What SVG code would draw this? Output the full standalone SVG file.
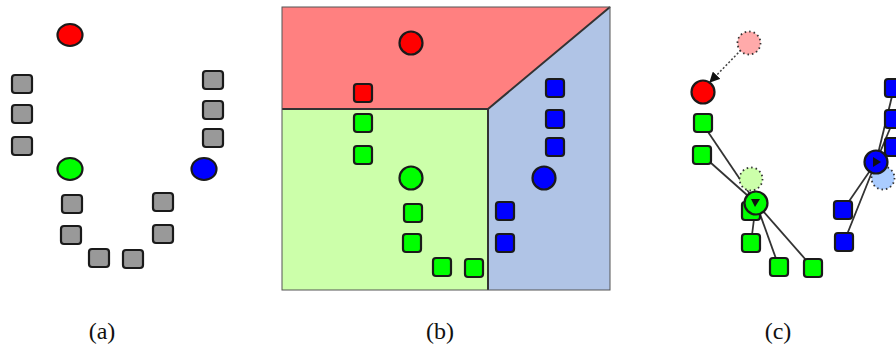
<svg xmlns="http://www.w3.org/2000/svg" width="896" height="347" viewBox="0 0 896 347">
<style>
.sq{stroke:#1a1a1a;stroke-width:2.2}
.ci{stroke:#1a1a1a;stroke-width:2.2}
.g{fill:#999999}
.r{fill:#ff0000}
.gr{fill:#00ff00}
.b{fill:#0000ff}
.ghost{stroke:#333;stroke-width:1.8;stroke-dasharray:1.5 3}
.link{stroke:#333;stroke-width:1.8;fill:none}
.lbl{font-family:"Liberation Serif",serif;font-size:24px;fill:#111;text-anchor:middle}
</style>
<defs>
<rect id="s" x="-9" y="-9" width="18" height="18" rx="3"/>
<rect id="sa" x="-10" y="-9" width="20" height="18" rx="3"/>
<marker id="ah" viewBox="0 0 10 10" refX="9" refY="5" markerWidth="7" markerHeight="7" orient="auto"><path d="M0,0 L10,5 L0,10 z" fill="#111"/></marker>
</defs>

<!-- Panel (a) -->
<g id="panel-a">
<ellipse id="a-red" class="ci r" cx="70" cy="35" rx="12.5" ry="11"/>
<ellipse id="a-green" class="ci gr" cx="70" cy="169" rx="12.5" ry="11"/>
<ellipse id="a-blue" class="ci b" cx="204" cy="169" rx="12.5" ry="11"/>
<g class="sq g">
<use href="#sa" x="22" y="84"/><use href="#sa" x="22" y="114"/><use href="#sa" x="22" y="146"/>
<use href="#sa" x="213" y="80"/><use href="#sa" x="213" y="110"/><use href="#sa" x="213" y="138"/>
<use href="#sa" x="72" y="204"/><use href="#sa" x="71" y="235"/><use href="#sa" x="99" y="258"/>
<use href="#sa" x="133" y="259"/><use href="#sa" x="163" y="202"/><use href="#sa" x="163" y="234"/>
</g>
</g>

<!-- Panel (b) -->
<g id="panel-b">
<polygon points="282,7 610,7 488,109 282,109" fill="#ff8080"/>
<polygon points="282,109 488,109 488,290 282,290" fill="#ccffaa"/>
<polygon points="488,109 610,7 610,290 488,290" fill="#b0c4e6"/>
<g stroke="#333" stroke-width="2" fill="none">
<polyline points="282,109 488,109 610,7"/>
<line x1="488" y1="109" x2="488" y2="290"/>
</g>
<rect x="282" y="7" width="328" height="283" fill="none" stroke="#555" stroke-width="1"/>
<circle class="ci r" cx="411" cy="43" r="11.5"/>
<circle class="ci gr" cx="411" cy="178" r="11.5"/>
<circle class="ci b" cx="544" cy="178" r="11.5"/>
<use class="sq r" href="#s" x="363" y="93"/>
<g class="sq gr">
<use href="#s" x="363" y="123"/><use href="#s" x="363" y="155"/>
<use href="#s" x="413" y="213"/><use href="#s" x="412" y="243"/>
<use href="#s" x="442" y="267"/><use href="#s" x="474" y="268"/>
</g>
<g class="sq b">
<use href="#s" x="555" y="88"/><use href="#s" x="555" y="119"/><use href="#s" x="555" y="147"/>
<use href="#s" x="505" y="211"/><use href="#s" x="505" y="243"/>
</g>
</g>

<!-- Panel (c) connectors -->
<g id="connectors">
<line x1="741" y1="50" x2="710" y2="82" stroke="#444" stroke-width="1.5" stroke-dasharray="2 2" marker-end="url(#ah)"/>
<g class="link">
<line x1="756" y1="203" x2="702" y2="123"/>
<line x1="756" y1="203" x2="702" y2="155"/>
<line x1="756" y1="203" x2="751" y2="243"/>
<line x1="756" y1="203" x2="779" y2="267"/>
<line x1="756" y1="203" x2="813" y2="268"/>
<line x1="876" y1="162" x2="843" y2="210"/>
<line x1="876" y1="162" x2="844" y2="242"/>
<line x1="876" y1="162" x2="894" y2="88"/>
<line x1="876" y1="162" x2="894" y2="119"/>
<line x1="876" y1="162" x2="894" y2="147"/>
</g>
</g>

<!-- Panel (c) nodes -->
<g id="panel-c">
<circle id="c-red-old" class="ghost" cx="749" cy="43" r="11.5" fill="#ffaaaa"/>
<circle id="c-red" class="ci r" cx="703" cy="92" r="11.5"/>
<g class="sq gr">
<use href="#s" x="703" y="123"/><use href="#s" x="702" y="155"/>
<use href="#s" x="751" y="211"/><use href="#s" x="751" y="243"/>
<use href="#s" x="779" y="267"/><use href="#s" x="813" y="268"/>
</g>
<circle id="c-green-old" class="ghost" cx="751" cy="179" r="11.5" fill="#ccffaa"/>
<circle id="c-green" class="ci gr" cx="756" cy="203" r="11.5"/>
<polygon points="751,199 760,199 755,207" fill="#111"/>
<g class="sq b">
<use href="#s" x="894" y="88"/><use href="#s" x="894" y="119"/><use href="#s" x="894" y="147"/>
<use href="#s" x="843" y="210"/><use href="#s" x="844" y="242"/>
</g>
<circle id="c-blue-old" class="ghost" cx="883" cy="178" r="11.5" fill="#aaccff"/>
<circle id="c-blue" class="ci b" cx="876" cy="162" r="11.5"/>
<polygon points="873,157 881,162 873,167" fill="#111"/>
</g>

<g id="labels">
<text class="lbl" x="102" y="339">(a)</text>
<text class="lbl" x="440" y="339">(b)</text>
<text class="lbl" x="778" y="339">(c)</text>
</g>
</svg>
